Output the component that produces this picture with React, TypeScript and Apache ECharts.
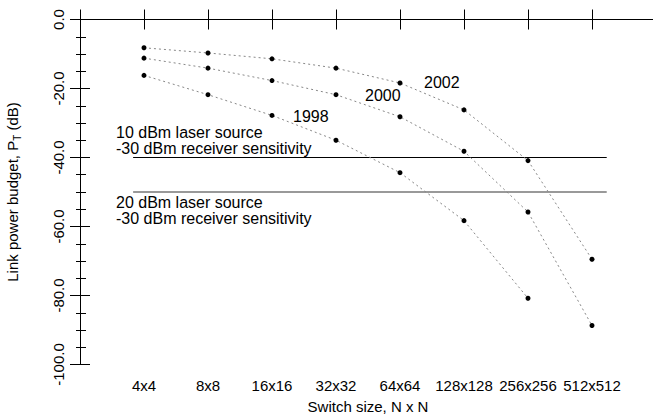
import React, { useEffect, useRef } from "react";
import * as echarts from "echarts";

const categories = ["4x4", "8x8", "16x16", "32x32", "64x64", "128x128", "256x256", "512x512"];
const series1998 = [-16.2, -21.8, -27.8, -35.0, -44.4, -58.3, -80.8];
const series2000 = [-11.2, -14.1, -17.7, -21.8, -28.2, -38.2, -55.8, -88.7];
const series2002 = [-8.2, -9.7, -11.4, -14.1, -18.4, -26.2, -40.9, -69.5];
const yTicks = [-100, -80, -60, -40, -20, 0];
const sensitivityLevels = [-40, -50];
const lineExtent = [0.83, 8.23];

const FONT = "'Liberation Sans', Arial, Helvetica, sans-serif";

const toPoints = (vals: number[]) => vals.map((v, i) => [i + 1, v]);

export default function App() {
  const ref = useRef<HTMLDivElement>(null);
  useEffect(() => {
    if (!ref.current) return;
    const chart = echarts.init(ref.current, null, { renderer: "svg" });
    const dotted = {
      type: "line",
      symbol: "circle",
      symbolSize: 5,
      itemStyle: { color: "#000" },
      lineStyle: { color: "#888", width: 1, type: [2, 3] },
      xAxisIndex: 0,
      yAxisIndex: 0,
      z: 3,
    };
    const option: any = {
      animation: false,
      backgroundColor: "#fff",
      grid: { left: 80, right: -3, top: 19.5, bottom: 49.5, containLabel: false, outerBoundsMode: "none" },
      xAxis: [
        {
          type: "value",
          min: 0,
          max: 9,
          interval: 1,
          position: "bottom",
          axisLine: { show: true, lineStyle: { color: "#000", width: 1 } },
          axisTick: { show: true, inside: true, length: 10, lineStyle: { color: "#000" } },
          splitLine: { show: false },
          axisLabel: {
            color: "#000",
            fontFamily: FONT,
            fontSize: 15,
            margin: 13,
            formatter: (v: number) => (v >= 1 && v <= categories.length ? categories[v - 1] : ""),
          },
          name: "Switch size, N x N",
          nameLocation: "middle",
          nameGap: 34,
          nameTextStyle: { color: "#000", fontFamily: FONT, fontSize: 15 },
        },
        {
          type: "value",
          min: 0,
          max: 9,
          interval: 1,
          position: "top",
          axisLine: { show: true, lineStyle: { color: "#000", width: 1 } },
          axisTick: { show: true, inside: true, length: 10, lineStyle: { color: "#000" } },
          axisLabel: { show: false },
          splitLine: { show: false },
        },
      ],
      yAxis: [
        {
          type: "value",
          min: -100,
          max: 0,
          interval: 20,
          position: "left",
          axisLine: { show: true, lineStyle: { color: "#000", width: 1 } },
          axisTick: { show: true, inside: true, length: 10, lineStyle: { color: "#000" } },
          minorTick: { show: true, splitNumber: 4, length: 6, lineStyle: { color: "#000" } },
          splitLine: { show: false },
          axisLabel: {
            color: "#000",
            fontFamily: FONT,
            fontSize: 15,
            rotate: 90,
            margin: 14,
            formatter: (v: number) => (yTicks.includes(v) ? v.toFixed(1) : ""),
          },
          name: "{a|Link power budget, P}{s|T}{a| (dB)}",
          nameLocation: "middle",
          nameRotate: 90,
          nameGap: 58,
          nameTextStyle: {
            color: "#000",
            fontFamily: FONT,
            fontSize: 15,
            rich: {
              a: { fontFamily: FONT, fontSize: 15, color: "#000" },
              s: { fontFamily: FONT, fontSize: 10, color: "#000", padding: [10, 0, 0, 0] },
            },
          },
        },
        {
          type: "value",
          min: -100,
          max: 0,
          interval: 20,
          position: "right",
          axisLine: { show: true, lineStyle: { color: "#000", width: 1 } },
          axisTick: { show: true, inside: true, length: 10, lineStyle: { color: "#000" } },
          minorTick: { show: true, splitNumber: 4, length: 4, lineStyle: { color: "#000" } },
          splitLine: { show: false },
          axisLabel: { show: false },
        },
      ],
      series: [
        { ...dotted, name: "1998", data: toPoints(series1998) },
        { ...dotted, name: "2000", data: toPoints(series2000) },
        { ...dotted, name: "2002", data: toPoints(series2002) },
        {
          type: "line",
          symbol: "none",
          data: [[lineExtent[0], sensitivityLevels[0]], [lineExtent[1], sensitivityLevels[0]]],
          lineStyle: { color: "#000", width: 1 },
          z: 2,
        },
        {
          type: "line",
          symbol: "none",
          data: [[lineExtent[0], sensitivityLevels[1]], [lineExtent[1], sensitivityLevels[1]]],
          lineStyle: { color: "#777", width: 1.3 },
          z: 2,
        },
      ],
      graphic: [
        { type: "text", left: 116, top: 124, style: { text: "10 dBm laser source", font: `16px ${FONT}`, fill: "#000" } },
        { type: "text", left: 116, top: 140, style: { text: "-30 dBm receiver sensitivity", font: `16px ${FONT}`, fill: "#000" } },
        { type: "text", left: 116, top: 194, style: { text: "20 dBm laser source", font: `16px ${FONT}`, fill: "#000" } },
        { type: "text", left: 116, top: 210, style: { text: "-30 dBm receiver sensitivity", font: `16px ${FONT}`, fill: "#000" } },
        { type: "text", left: 293, top: 108, style: { text: "1998", font: `16px ${FONT}`, fill: "#000" } },
        { type: "text", left: 365, top: 87, style: { text: "2000", font: `16px ${FONT}`, fill: "#000" } },
        { type: "text", left: 424, top: 74, style: { text: "2002", font: `16px ${FONT}`, fill: "#000" } },
      ],
    };
    chart.setOption(option);
    return () => chart.dispose();
  }, []);
  return <div ref={ref} style={{ width: 653, height: 414, position: "absolute", left: 0, top: 0 }} />;
}
